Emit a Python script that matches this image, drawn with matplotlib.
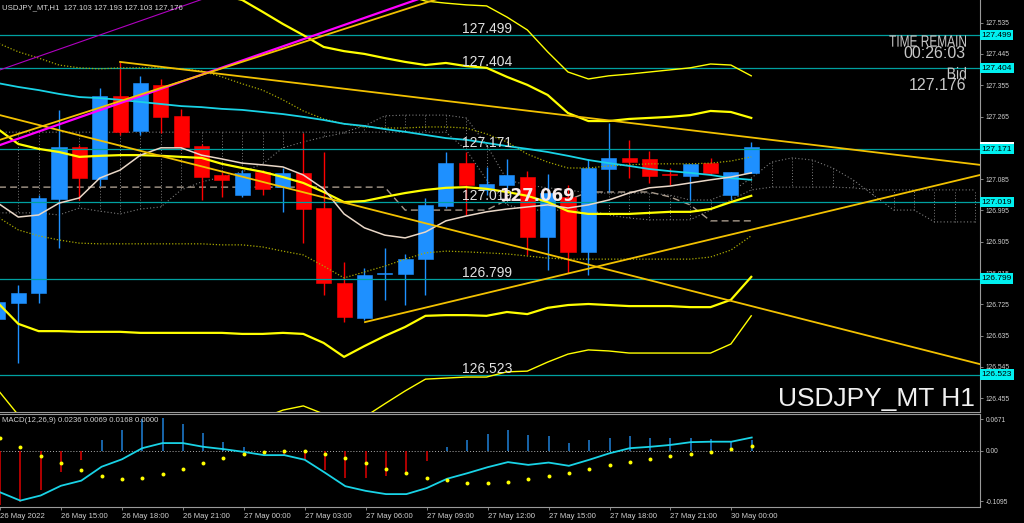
import numpy as np
import matplotlib
matplotlib.use("Agg")
import matplotlib.pyplot as plt
from matplotlib.transforms import blended_transform_factory, Affine2D
from matplotlib.textpath import TextPath
from matplotlib.patches import PathPatch
from matplotlib.font_manager import FontProperties

plt.rcParams['font.family'] = ['Liberation Sans', 'DejaVu Sans']

# hourly bars, bar 0 = 26 May 15:00, last bar = 30 May 01:00
first_bar = -3
opens = [126.683, 126.729, 126.758, 127.028, 127.177, 127.085, 127.324, 127.223, 127.356, 127.267,
         127.180, 127.097, 127.039, 127.106, 127.062, 127.103, 127.002, 126.786, 126.686, 126.811,
         126.812, 126.855, 127.008, 127.131, 127.054, 127.068, 127.091, 126.919, 127.034, 126.876,
         127.114, 127.146, 127.143, 127.100, 127.094, 127.131, 127.039, 127.103]
highs = [126.743, 126.781, 127.039, 127.284, 127.183, 127.347, 127.422, 127.382, 127.373, 127.287,
         127.185, 127.105, 127.111, 127.111, 127.117, 127.218, 127.163, 126.847, 126.830, 126.887,
         126.870, 127.031, 127.163, 127.163, 127.120, 127.143, 127.108, 127.100, 127.068, 127.143,
         127.246, 127.198, 127.166, 127.117, 127.129, 127.146, 127.106, 127.193]
lows = [126.666, 126.556, 126.729, 126.887, 127.025, 127.065, 127.212, 127.212, 127.218, 127.169,
        127.025, 127.034, 127.034, 127.039, 126.991, 126.901, 126.752, 126.674, 126.680, 126.738,
        126.723, 126.752, 127.002, 126.982, 127.039, 127.060, 126.867, 126.824, 126.815, 126.809,
        127.048, 127.088, 127.074, 127.068, 127.025, 127.097, 127.025, 127.103]
closes = [126.732, 126.758, 127.031, 127.177, 127.088, 127.324, 127.221, 127.361, 127.264, 127.177,
          127.091, 127.083, 127.103, 127.057, 127.103, 126.999, 126.786, 126.689, 126.809, 126.815,
          126.855, 127.011, 127.131, 127.068, 127.071, 127.097, 126.919, 127.045, 126.876, 127.117,
          127.146, 127.134, 127.094, 127.097, 127.129, 127.103, 127.106, 127.176]

# bollinger style envelopes
bb_upper3 = [127.974, 127.959, 127.974, 127.931, 127.902, 127.911, 127.916, 127.922, 127.916, 127.911,
             127.905, 127.865, 127.842, 127.813, 127.761, 127.715, 127.686, 127.701, 127.643, 127.629,
             127.614, 127.597, 127.591, 127.586, 127.583, 127.551, 127.514, 127.451, 127.393, 127.373,
             127.382, 127.387, 127.393, 127.399, 127.405, 127.416, 127.413, 127.382]
bb_upper2 = [127.729, 127.704, 127.695, 127.678, 127.652, 127.658, 127.663, 127.666, 127.660, 127.655,
             127.649, 127.614, 127.600, 127.566, 127.531, 127.499, 127.465, 127.453, 127.445, 127.433,
             127.422, 127.413, 127.419, 127.410, 127.405, 127.379, 127.356, 127.327, 127.275, 127.252,
             127.252, 127.258, 127.261, 127.264, 127.269, 127.281, 127.278, 127.261]
bb_upper1 = [127.476, 127.451, 127.433, 127.413, 127.405, 127.402, 127.405, 127.405, 127.405, 127.402,
             127.396, 127.379, 127.359, 127.341, 127.313, 127.281, 127.258, 127.244, 127.235, 127.232,
             127.232, 127.235, 127.235, 127.232, 127.215, 127.192, 127.157, 127.134, 127.117, 127.117,
             127.123, 127.126, 127.129, 127.129, 127.129, 127.131, 127.137, 127.149]
bb_mid = [127.229, 127.186, 127.172, 127.163, 127.149, 127.152, 127.154, 127.154, 127.152, 127.149,
          127.146, 127.129, 127.117, 127.106, 127.091, 127.074, 127.048, 127.019, 127.022, 127.034,
          127.045, 127.054, 127.060, 127.062, 127.057, 127.048, 127.037, 127.019, 126.993, 126.985,
          126.985, 126.985, 126.988, 126.991, 126.991, 126.999, 127.019, 127.037]
bb_lower1 = [126.976, 126.939, 126.922, 126.910, 126.901, 126.899, 126.899, 126.899, 126.899, 126.899,
             126.899, 126.896, 126.896, 126.890, 126.878, 126.867, 126.835, 126.801, 126.818, 126.835,
             126.855, 126.873, 126.878, 126.876, 126.873, 126.870, 126.864, 126.858, 126.855, 126.855,
             126.855, 126.855, 126.855, 126.855, 126.855, 126.861, 126.881, 126.922]
bb_lower2 = [126.729, 126.669, 126.648, 126.648, 126.646, 126.646, 126.646, 126.643, 126.643, 126.643,
             126.643, 126.643, 126.640, 126.640, 126.643, 126.640, 126.614, 126.574, 126.605, 126.634,
             126.660, 126.692, 126.694, 126.694, 126.692, 126.703, 126.697, 126.715, 126.723, 126.726,
             126.723, 126.720, 126.720, 126.720, 126.717, 126.717, 126.738, 126.804]
bb_lower3 = [126.479, 126.407, 126.393, 126.393, 126.390, 126.390, 126.390, 126.387, 126.387, 126.387,
             126.387, 126.390, 126.393, 126.398, 126.421, 126.433, 126.410, 126.335, 126.401, 126.439,
             126.476, 126.510, 126.513, 126.516, 126.516, 126.531, 126.533, 126.559, 126.582, 126.594,
             126.591, 126.585, 126.585, 126.585, 126.585, 126.585, 126.611, 126.692]

# moving averages
slow_ma = [127.361, 127.350, 127.341, 127.330, 127.321, 127.318, 127.313, 127.307, 127.301, 127.295,
           127.292, 127.287, 127.284, 127.278, 127.272, 127.264, 127.255, 127.244, 127.238, 127.229,
           127.221, 127.212, 127.203, 127.198, 127.189, 127.180, 127.172, 127.163, 127.152, 127.140,
           127.131, 127.123, 127.114, 127.108, 127.103, 127.097, 127.088, 127.083]
fast_ma = [127.016, 126.976, 126.982, 127.016, 127.031, 127.088, 127.111, 127.154, 127.175, 127.175,
           127.154, 127.143, 127.131, 127.126, 127.120, 127.097, 127.057, 126.985, 126.945, 126.924,
           126.916, 126.933, 126.965, 126.979, 126.991, 126.999, 127.005, 127.011, 127.002, 127.011,
           127.025, 127.045, 127.060, 127.065, 127.074, 127.083, 127.091, 127.103]

# ichimoku
kijun = ([127.062] * 20 + [126.996] * 5 + [127.025] * 4 + [127.048] * 4
         + [127.034, 127.011] + [126.965] * 3)
span_a = ([127.220] * 18
          + [127.238, 127.267, 127.269, 127.269, 127.269, 127.261, 127.183, 127.083, 127.068, 127.060,
             127.054, 127.045, 127.045, 127.045, 127.045, 127.039, 127.025, 127.025, 127.048, 127.088,
             127.134, 127.146, 127.140, 127.117, 127.083, 127.039, 126.996, 126.996, 126.962, 126.962,
             126.962])
span_b = ([126.988, 126.988, 126.988, 126.982, 127.002, 126.993, 126.985, 126.999, 127.005, 127.054,
           127.077, 127.091, 127.106, 127.129, 127.175, 127.192, 127.206, 127.218]
          + [127.220] * 5 + [127.169, 127.083, 127.011] + [126.996] * 4 + [126.982, 126.973]
          + [126.968] * 3 + [126.996, 127.025, 127.054] + [127.062] * 4 + [127.060] + [127.054] * 6)

# macd window
macd_hist = [-0.118, -0.112, -0.085, -0.046, -0.020, 0.023, 0.044, 0.068, 0.069, 0.057,
             0.037, 0.019, 0.008, -0.006, -0.010, -0.020, -0.041, -0.060, -0.059, -0.054,
             -0.046, -0.022, 0.007, 0.023, 0.036, 0.044, 0.033, 0.031, 0.016, 0.023,
             0.028, 0.032, 0.028, 0.028, 0.028, 0.025, 0.020, 0.022]
macd_line = [-0.090, -0.108, -0.097, -0.076, -0.065, -0.035, -0.019, 0.005, 0.016, 0.016,
             0.008, 0.003, -0.003, -0.010, -0.010, -0.020, -0.048, -0.077, -0.087, -0.094,
             -0.094, -0.081, -0.061, -0.049, -0.036, -0.025, -0.031, -0.026, -0.033, -0.020,
             -0.006, 0.005, 0.008, 0.012, 0.018, 0.019, 0.019, 0.028]
macd_signal = [0.026, 0.007, -0.011, -0.028, -0.042, -0.054, -0.061, -0.060, -0.051, -0.039,
               -0.028, -0.016, -0.008, -0.003, 0.000, 0.000, -0.007, -0.016, -0.027, -0.039,
               -0.049, -0.059, -0.064, -0.069, -0.070, -0.067, -0.061, -0.054, -0.048, -0.039,
               -0.031, -0.025, -0.018, -0.012, -0.008, -0.003, 0.003, 0.010]

levels = [127.499, 127.404, 127.171, 127.019, 126.799, 126.523]
bid = 127.176
price_ticks = [127.535, 127.445, 127.355, 127.265, 127.175, 127.085, 126.995,
               126.905, 126.815, 126.725, 126.635, 126.545, 126.455]
macd_ticks = [0.0671, 0.0, -0.1095]
macd_tick_labels = ['0.0671', '0.00', '-0.1095']
time_ticks = [-3, 0, 3, 6, 9, 12, 15, 18, 21, 24, 27, 30, 33]
time_labels = ['26 May 2022', '26 May 15:00', '26 May 18:00', '26 May 21:00', '27 May 00:00',
               '27 May 03:00', '27 May 06:00', '27 May 09:00', '27 May 12:00', '27 May 15:00',
               '27 May 18:00', '27 May 21:00', '30 May 00:00']

# trendline anchors (bar, price)
tl_desc_upper = [(3.0, 127.422), (45.24, 127.126)]
tl_desc_lower = [(-2.9, 127.269), (45.24, 126.553)]
tl_asc_lower = [(15.03, 126.674), (45.24, 127.097)]
tl_asc_gold = [(-2.9, 127.198), (14.29, 127.522)]
tl_asc_magenta = [(-2.9, 127.183), (14.29, 127.534)]
tl_asc_purple = [(-2.9, 127.399), (6.93, 127.600)]

bars = np.arange(first_bar, first_bar + len(opens))
cloud_bars = np.arange(first_bar, first_bar + len(span_a))

W, H = 1024.0, 523.0
fig = plt.figure(figsize=(10.24, 5.23), dpi=100, facecolor='black')


def px_axes(x0, y0, x1, y1):
    a = fig.add_axes([x0 / W, 1 - y1 / H, (x1 - x0) / W, (y1 - y0) / H])
    a.set_facecolor('black')
    for s in a.spines.values():
        s.set_color('#9a9a9a')
        s.set_linewidth(0.8)
    a.spines['left'].set_visible(False)
    return a


ax = px_axes(0, 0, 980, 412)
mx = px_axes(0, 414, 980, 507)
ax.spines['top'].set_visible(False)

bar_px = 20.36
xlim = (-59 / bar_px, (980 - 59) / bar_px)
ax.set_xlim(xlim)
ax.set_ylim(126.4155, 127.600)
mx.set_xlim(xlim)
mx.set_ylim(-0.1218, 0.0787)

# cloud
gray = '#7c7c7c'
ax.vlines(cloud_bars, span_a, span_b, colors=gray, linestyles=(0, (1, 2)), lw=0.7, zorder=1)
ax.plot(cloud_bars, span_a, color=gray, ls=(0, (1, 2)), lw=0.8, zorder=1)
ax.plot(cloud_bars, span_b, color=gray, ls=(0, (1, 2)), lw=0.8, zorder=1)
ax.plot(bars, kijun, color='#a89a8c', ls=(0, (5, 3)), lw=1.0, zorder=1.5)

# candles
o, h, l, c = map(np.array, (opens, highs, lows, closes))
col = np.where(c >= o, '#1e90ff', '#ff0000')
ax.vlines(bars, l, h, colors=col, lw=1.0, zorder=3)
ax.bar(bars, np.maximum(np.abs(c - o), 0.0015), bottom=np.minimum(o, c), width=0.74,
       color=col, edgecolor=col, linewidth=0.4, zorder=3.1)

# levels
for lv in levels:
    ax.axhline(lv, color='#00a0a0', lw=0.9, zorder=3.5)
    ax.text(19.8, lv + 0.006, f'{lv:.3f}', color='#e2e2e2', fontsize=10, ha='left',
            va='baseline', zorder=7)

# indicators
ax.plot(bars, bb_upper3, color='#ffff00', lw=1.0, zorder=4)
ax.plot(bars, bb_lower3, color='#ffff00', lw=1.0, zorder=4)
for band in (bb_upper2, bb_mid, bb_lower2):
    ax.plot(bars, band, color='#ffff00', lw=1.6, zorder=4)
for band in (bb_upper1, bb_lower1):
    ax.plot(bars, band, color='#a8a800', ls=(0, (1, 1.5)), lw=0.9, zorder=4)
ax.plot(bars, slow_ma, color='#19d3e6', lw=1.3, zorder=4.2)
ax.plot(bars, fast_ma, color='#ead8c8', lw=1.1, zorder=4.2)


def draw_line(anchor, color, lw, x_end=None):
    (x0, y0), (x1, y1) = anchor
    if x_end is not None:
        y1 = y0 + (y1 - y0) * (x_end - x0) / (x1 - x0)
        x1 = x_end
    ax.plot([x0, x1], [y0, y1], color=color, lw=lw, zorder=4.5)


gold = '#f2c100'
draw_line(tl_desc_upper, gold, 1.3)
draw_line(tl_desc_lower, gold, 1.3)
draw_line(tl_asc_lower, gold, 1.3)
draw_line(tl_asc_purple, '#b000c0', 0.8, x_end=12)
draw_line(tl_asc_magenta, '#ff00ff', 1.6, x_end=22)
draw_line(tl_asc_gold, gold, 1.3, x_end=22)

ax.text(23.5, 127.0365, '127.069', fontsize=12, fontweight='bold', family='DejaVu Sans',
        color='#f6eaea', ha='center', va='center', zorder=8)
ax.text(975 / 980, 6 / 412, 'USDJPY_MT H1', transform=ax.transAxes, fontsize=19,
        color='#f0f0f0', ha='right', va='baseline', zorder=8)

# right price scale
ax.yaxis.tick_right()
ax.set_yticks(price_ticks, [f'{p:.3f}' for p in price_ticks])
ax.set_xticks([])
ax.tick_params(axis='y', colors='#9a9a9a', labelcolor='#d0d0d0', labelsize=4.8,
               length=2.5, width=0.6, pad=1.5)
tr = blended_transform_factory(ax.transAxes, ax.transData)
ax.text(1.0015, bid, f'{bid:.3f}', transform=tr, fontsize=6, color='black', ha='left',
        va='center', clip_on=False, zorder=9,
        bbox=dict(boxstyle='square,pad=0.2', fc='white', ec='none'))
for lv in levels:
    ax.text(1.0015, lv, f'{lv:.3f}', transform=tr, fontsize=6, color='black', ha='left',
            va='center', clip_on=False, zorder=10,
            bbox=dict(boxstyle='square,pad=0.2', fc='#00f0f0', ec='none'))

# macd
mx.axhline(0, color='#b0b0b0', ls=(0, (1, 2)), lw=0.7, zorder=1)
hcol = np.where(np.array(macd_hist) >= 0, '#1f80d8', '#e00000')
mx.vlines(bars, 0, macd_hist, colors=hcol, lw=1.1, zorder=2)
mx.plot(bars, macd_line, color='#19d3e6', lw=1.3, zorder=3)
mx.scatter(bars, macd_signal, s=8, color='#ffff00', linewidths=0, zorder=4)
mx.text(0.002, 0.935, 'MACD(12,26,9) 0.0236 0.0069 0.0168 0.0000', transform=mx.transAxes,
        fontsize=5.6, color='#d0d0d0', va='center', ha='left')
mx.yaxis.tick_right()
mx.set_yticks(macd_ticks, macd_tick_labels)
mx.tick_params(axis='y', colors='#9a9a9a', labelcolor='#d0d0d0', labelsize=4.8,
               length=2.5, width=0.6, pad=1.5)
mx.set_xticks(time_ticks, time_labels)
mx.tick_params(axis='x', colors='#9a9a9a', labelcolor='#d0d0d0', labelsize=5.6,
               length=2.5, width=0.6, pad=1.5)
for lab in mx.get_xticklabels():
    lab.set_ha('left')

# header and timer block
fig.text(2 / W, 1 - 8 / H, 'USDJPY_MT,H1  127.103 127.193 127.103 127.176', fontsize=5.6,
         color='#d8d8d8', va='center', ha='left')


def narrow_text(s, right_px, mid_px, em_px, squeeze):
    # condensed label: text path squeezed horizontally, placed in pixel coordinates
    tp = TextPath((0, 0), s, size=em_px, prop=FontProperties(family='Liberation Sans'))
    ext = tp.get_extents()
    t = (Affine2D().translate(-ext.x1, -(ext.y0 + ext.y1) / 2).scale(squeeze, 1)
         .translate(right_px, H - mid_px))
    fig.add_artist(PathPatch(tp, transform=t, fc='#c8c8c8', ec='none', lw=0))


narrow_text('TIME REMAIN', 966, 41, 16.5, 0.72)
narrow_text('Bid', 966, 73, 16.5, 0.85)
fig.text(966 / W, 1 - 54 / H, '00:26:03', fontsize=11.5, color='#c8c8c8', ha='right', va='center')
fig.text(966 / W, 1 - 86 / H, f'{bid:.3f}', fontsize=11.5, color='#c8c8c8', ha='right', va='center')

fig.savefig('out.png', dpi=100, facecolor='black')
